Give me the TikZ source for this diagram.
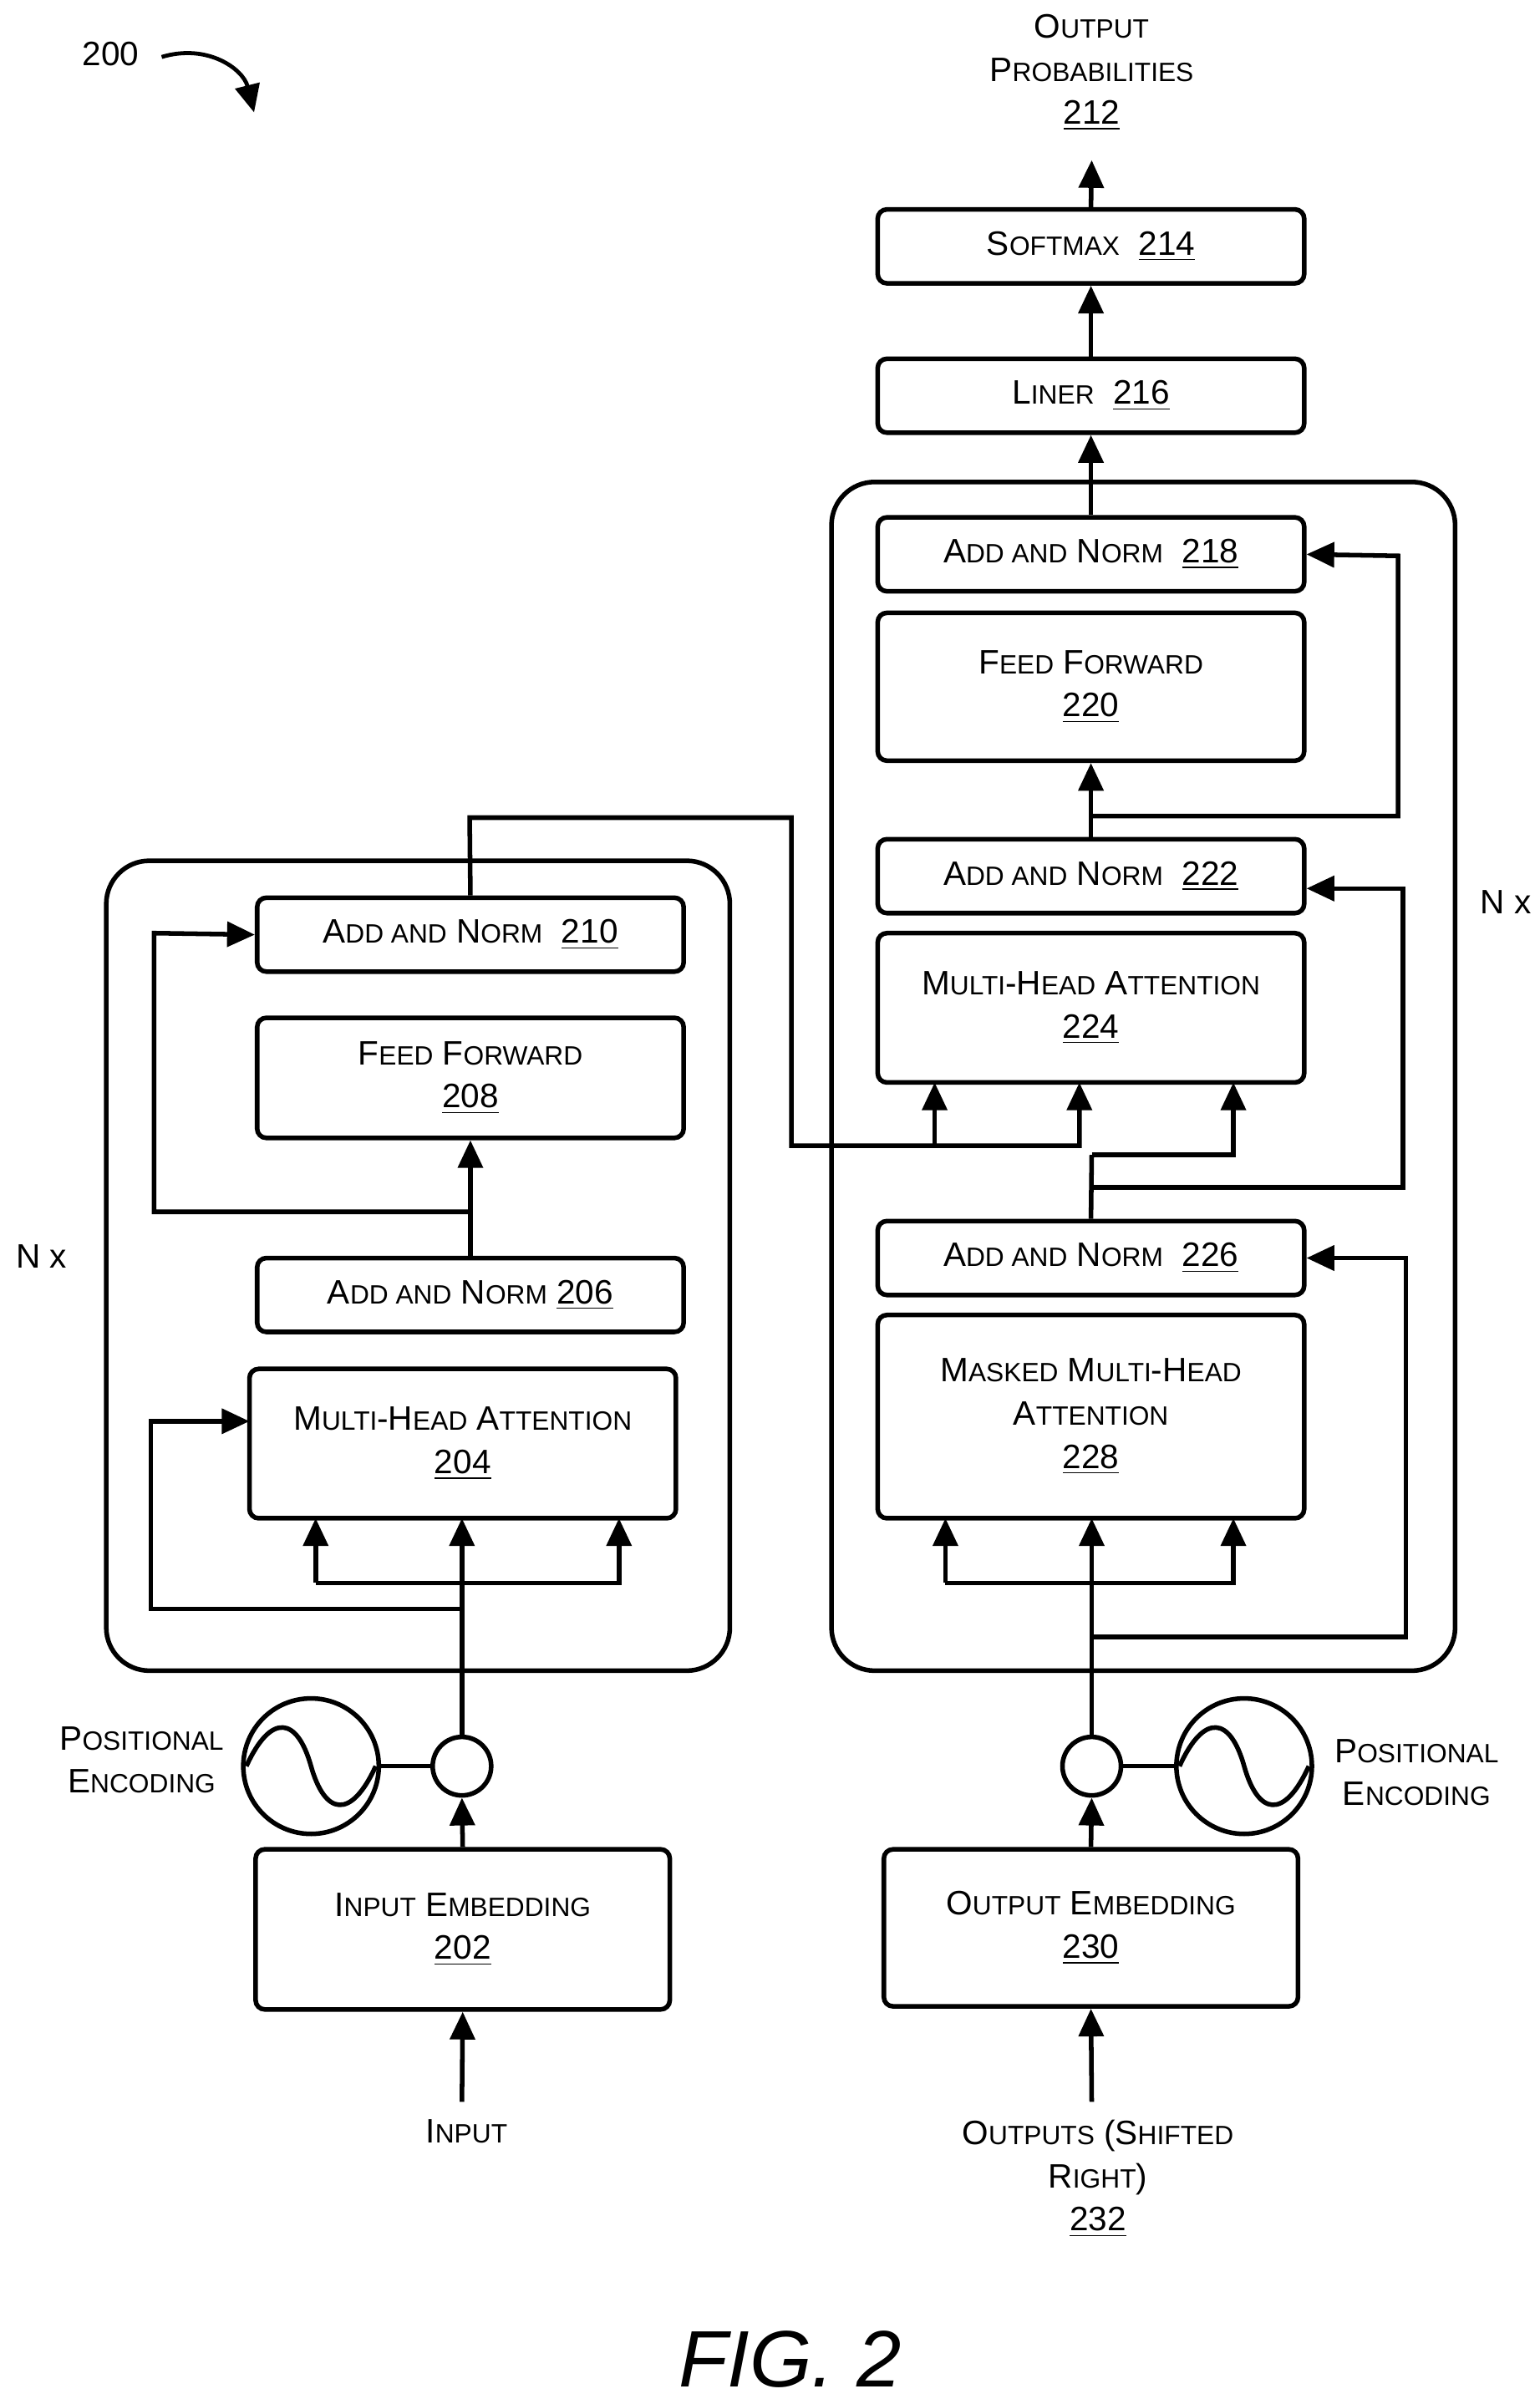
\documentclass[tikz,border=0pt]{standalone}
\usepackage{fontspec}
\setmainfont{Liberation Sans}
\usetikzlibrary{arrows.meta}
\newcommand\sm[1]{{\fontsize{8.6}{10}\selectfont #1}}
\newcommand\ul[1]{\underline{#1}}
\begin{document}
\begin{tikzpicture}[x=0.5pt,y=-0.5pt,
  every node/.style={font=\fontsize{11}{14}\selectfont, align=center, inner sep=0},
  box/.style={draw, line width=1.5pt, rounded corners=3pt},
  outer/.style={draw, line width=1.5pt, rounded corners=14pt},
  ln/.style={line width=1.5pt},
  ar/.style={line width=1.5pt, -{Triangle[length=9pt,width=8pt]}},
  circ/.style={draw, line width=1.5pt, circle}]
\useasboundingbox (0,0) rectangle (1000,1558);
% outer frames
\node[outer, minimum width=202.5pt, minimum height=263pt] (enc) at (271.5,822) {};
\node[outer, minimum width=202.5pt, minimum height=386pt] (dec) at (742.5,699) {};
% decoder boxes
\node[box, minimum width=138.5pt, minimum height=24pt] (sm) at (708.5,160) {S\sm{OFTMAX}~~\ul{214}};
\node[box, minimum width=138.5pt, minimum height=24pt] (li) at (708.5,257) {L\sm{INER}~~\ul{216}};
\node[box, minimum width=138.5pt, minimum height=24pt] (a218) at (708.5,360) {A\sm{DD AND} N\sm{ORM}~~\ul{218}};
\node[box, minimum width=138.5pt, minimum height=48pt] (f220) at (708.5,446) {F\sm{EED} F\sm{ORWARD}\\\ul{220}};
\node[box, minimum width=138.5pt, minimum height=24pt] (a222) at (708.5,569) {A\sm{DD AND} N\sm{ORM}~~\ul{222}};
\node[box, minimum width=138.5pt, minimum height=48.5pt] (m224) at (708.5,654.5) {M\sm{ULTI}-H\sm{EAD} A\sm{TTENTION}\\\ul{224}};
\node[box, minimum width=138.5pt, minimum height=24pt] (a226) at (708.5,817) {A\sm{DD AND} N\sm{ORM}~~\ul{226}};
\node[box, minimum width=138.5pt, minimum height=66pt] (m228) at (708.5,920) {M\sm{ASKED} M\sm{ULTI}-H\sm{EAD}\\A\sm{TTENTION}\\\ul{228}};
\node[box, minimum width=134.5pt, minimum height=51pt] (oe) at (708.5,1252) {O\sm{UTPUT} E\sm{MBEDDING}\\\ul{230}};
\node[circ, minimum size=19pt] (dc) at (709,1147) {};
\node[circ, minimum size=44pt] (dpe) at (808,1147) {};
% encoder boxes
\node[box, minimum width=138.5pt, minimum height=24pt] (a210) at (305.5,607) {A\sm{DD AND} N\sm{ORM}~~\ul{210}};
\node[box, minimum width=138.5pt, minimum height=39pt] (f208) at (305.5,700) {F\sm{EED} F\sm{ORWARD}\\\ul{208}};
\node[box, minimum width=138.5pt, minimum height=24pt] (a206) at (305.5,841) {A\sm{DD AND} N\sm{ORM} \ul{206}};
\node[box, minimum width=138.5pt, minimum height=48.5pt] (m204) at (300.5,937.5) {M\sm{ULTI}-H\sm{EAD} A\sm{TTENTION}\\\ul{204}};
\node[box, minimum width=134.5pt, minimum height=52pt] (ie) at (300.5,1253) {I\sm{NPUT} E\sm{MBEDDING}\\\ul{202}};
\node[circ, minimum size=19pt] (ec) at (300,1147) {};
\node[circ, minimum size=44pt] (epe) at (202,1147) {};
% sines
\draw[ln] (160,1147) .. controls (176,1112) and (193,1115) .. (202,1147) .. controls (211,1179) and (228,1182) .. (244,1147);
\draw[ln] (766,1147) .. controls (782,1112) and (799,1115) .. (808,1147) .. controls (817,1179) and (834,1182) .. (850,1147);
% texts
\node (op) at (709,47) {O\sm{UTPUT}\\P\sm{ROBABILITIES}\\\ul{212}};
\node (in) at (303,1384) {I\sm{NPUT}};
\node (os) at (713,1415) {O\sm{UTPUTS} (S\sm{HIFTED}\\R\sm{IGHT})\\\ul{232}};
\node (pe1) at (92,1143) {P\sm{OSITIONAL}\\E\sm{NCODING}};
\node (pe2) at (920,1151) {P\sm{OSITIONAL}\\E\sm{NCODING}};
\node (nx1) at (27,816) {N x};
\node (nx2) at (978,586) {N x};
\node (n200) at (72,35) {200};
\node (fig) at (513,1532) {\fontsize{26}{28}\selectfont\itshape FIG. 2};
\coordinate (c200a) at (105,37);
\coordinate (c200b) at (165,73);
\draw[ar,line width=1.3pt] (c200a) .. controls (135,28) and (158,45) .. (c200b);
% decoder top chain
\coordinate (optop) at (709,104);
\draw[ar] (sm.north) -- (optop);
\draw[ar] (li.north) -- (sm.south);
\draw[ar] (a218.north) -- (li.south);
\draw[ar] (a222.north) -- (f220.south);
\draw[ar] (709,530) -- (908,530) -- (908,361) -- (a218.east);
% middle
\draw[ln] (a226.north) -- (709,750);
\draw[ar] (709,750) -- (801,750) -- (801,703);
\draw[ar] (709,771) -- (911,771) -- (911,577) -- (a222.east |- 0,577);
\draw[ar] (a210.north) -- (305,531) -- (514,531) -- (514,744) -- (701,744) -- (701,703);
\draw[ar] (607,744) -- (607,703);
% decoder bottom
\coordinate (osin) at (709,1365);
\draw[ar] (osin) -- (oe.south);
\draw[ar] (oe.north) -- (dc.south);
\draw[ln] (dc.east) -- (dpe.west);
\draw[ar] (dc.north) -- (709,986);
\draw[ar] (614,1028) -- (614,986);
\draw[ar] (614,1028) -- (801,1028) -- (801,986);
\draw[ar] (709,1063) -- (913,1063) -- (913,817) -- (a226.east);
% encoder
\coordinate (inin) at (300,1365);
\draw[ar] (inin) -- (ie.south);
\draw[ar] (ie.north) -- (ec.south);
\draw[ln] (epe.east) -- (ec.west);
\draw[ar] (ec.north) -- (300,986);
\draw[ar] (205,1028) -- (205,986);
\draw[ar] (205,1028) -- (402,1028) -- (402,986);
\draw[ar] (300,1045) -- (98,1045) -- (98,923) -- (162,923);
\draw[ar] (a206.north) -- (f208.south);
\draw[ar] (305,787) -- (100,787) -- (100,606) -- (a210.west);
\end{tikzpicture}
\end{document}
